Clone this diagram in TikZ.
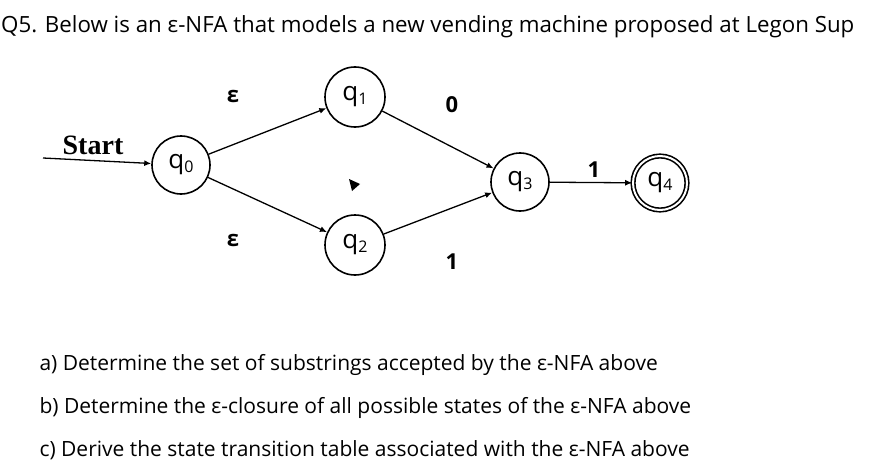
\documentclass[tikz,border=0pt]{standalone}
\usepackage{fontspec}
\setmainfont{Open Sans}
\newfontfamily\serifb{Liberation Serif}
\usetikzlibrary{arrows.meta}
\begin{document}
\begin{tikzpicture}[x=1pt,y=-1pt,
  st/.style={circle,draw,line width=1.6pt,minimum size=58pt,inner sep=0pt,font=\fontsize{26}{26}\selectfont},
  tr/.style={line width=1.3pt,-{Latex[length=7pt,width=6pt]}},
  lb/.style={font=\fontsize{22}{22}\selectfont\bfseries},
  qt/.style={anchor=west,font=\fontsize{21}{21}\selectfont}]
\useasboundingbox (0,0) rectangle (874,468);
\fill[white] (0,0) rectangle (874,468);
\node[anchor=west,font=\fontsize{22.3}{22}\selectfont,inner sep=1pt] (title) at (0,27) {Q5. Below is an ε-NFA that models a new vending machine proposed at Legon Sup};
\node[st] (q0) at (181,165) {q\raisebox{-4pt}{\fontsize{16}{16}\selectfont 0}};
\node[st,minimum size=60pt] (q1) at (355,97) {q\raisebox{-4pt}{\fontsize{16}{16}\selectfont 1}};
\node[st,minimum size=60pt] (q2) at (355,245) {q\raisebox{-4pt}{\fontsize{16}{16}\selectfont 2}};
\node[st,minimum size=58pt] (q3) at (520,182) {q\raisebox{-4pt}{\fontsize{16}{16}\selectfont 3}};
\node[st,minimum size=54pt,double,double distance=2pt] (q4) at (660,183) {q\raisebox{-4pt}{\fontsize{16}{16}\selectfont 4}};
\coordinate (s) at (43,158);
\node[font=\serifb\fontsize{28}{28}\selectfont\bfseries] (start) at (93,145) {Start};
\draw[tr] (s) -- (q0);
\draw[tr] (q0) -- (q1);
\draw[tr] (q0) -- (q2);
\draw[tr] (q1) -- (q3);
\draw[tr] (q2) -- (q3);
\draw[tr] (q3) -- (q4);
\node[lb] (e1) at (233,96) {ε};
\node[lb] (e2) at (233,240) {ε};
\node[lb] (l0) at (452,105) {0};
\node[lb] (l1) at (452,262) {1};
\node[lb] (l2) at (594,170) {1};
\fill (349,179) -- (360,184) -- (352,191) -- cycle;
\node[qt] (a) at (36,365) {a) Determine the set of substrings accepted by the ε-NFA above};
\node[qt] (b) at (36,408) {b) Determine the ε-closure of all possible states of the ε-NFA above};
\node[qt] (c) at (36,450) {c) Derive the state transition table associated with the ε-NFA above};
\end{tikzpicture}
\end{document}
